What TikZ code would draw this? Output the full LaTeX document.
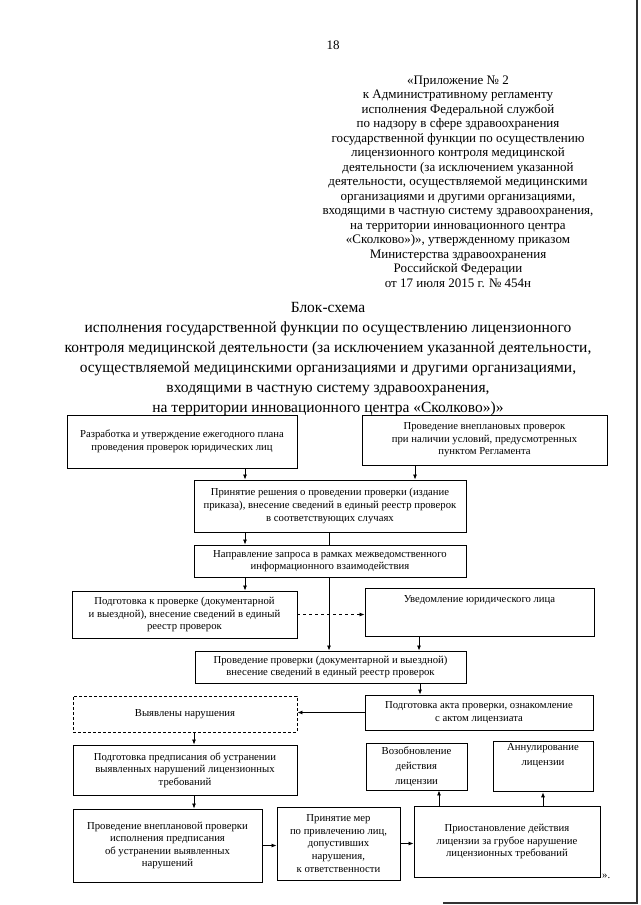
\documentclass[tikz,border=0pt]{standalone}
\usepackage{fontspec}
\setmainfont{Liberation Serif}
\usetikzlibrary{arrows.meta}
\begin{document}
\begin{tikzpicture}[x=1pt,y=-1pt,
  box/.style={draw, line width=0.9pt, align=center, inner sep=2pt,
    font=\fontsize{10.7}{12.6}\selectfont},
  bx/.style 2 args={box, minimum width=#1pt, minimum height=#2pt},
  arr/.style={-{Latex[length=5pt,width=4pt]}, line width=0.8pt},
  ln/.style={line width=0.8pt},
  hdrtext/.style={align=center, font=\fontsize{13}{14.5}\selectfont},
  ttltext/.style={align=center, font=\fontsize{15.5}{20}\selectfont}]
\useasboundingbox (0,0) rectangle (640,905);
% scan edge
\draw[line width=2pt, black!80] (637,0) -- (637,903) -- (443,903);

\node[hdrtext] (pg) at (333,45) {18};
\node[hdrtext] (hdr) at (458,181.5) {«Приложение № 2\\
к Административному регламенту\\
исполнения Федеральной службой\\
по надзору в сфере здравоохранения\\
государственной функции по осуществлению\\
лицензионного контроля медицинской\\
деятельности (за исключением указанной\\
деятельности, осуществляемой медицинскими\\
организациями и другими организациями,\\
входящими в частную систему здравоохранения,\\
на территории инновационного центра\\
«Сколково»)», утвержденному приказом\\
Министерства здравоохранения\\
Российской Федерации\\
от 17 июля 2015 г. № 454н};
\node[ttltext] (ttl) at (328,359) {Блок-схема\\
исполнения государственной функции по осуществлению лицензионного\\
контроля медицинской деятельности (за исключением указанной деятельности,\\
осуществляемой медицинскими организациями и другими организациями,\\
входящими в частную систему здравоохранения,\\
на территории инновационного центра «Сколково»)»};

\node[bx={230}{53}] (b1) at (182,441.5) {Разработка и утверждение ежегодного плана\\проведения проверок юридических лиц};
\node[bx={245}{50}] (b2) at (484.5,440) {Проведение внеплановых проверок\\при наличии условий, предусмотренных\\пунктом Регламента};
\node[bx={272}{52}] (b3) at (330,506) {Принятие решения о проведении проверки (издание\\приказа), внесение сведений в единый реестр проверок\\в соответствующих случаях};
\node[bx={272}{32}] (b4) at (330,561) {Направление запроса в рамках межведомственного\\информационного взаимодействия};
\node[bx={225}{47}] (b5) at (184.5,614.5) {Подготовка к проверке (документарной\\и выездной), внесение сведений в единый\\реестр проверок};
\node[bx={229}{48}] (bu) at (479.5,612) {Уведомление юридического лица\\[14pt]\mbox{}};
\node[bx={271}{32}] (b6) at (330.5,667) {Проведение проверки (документарной и выездной)\\внесение сведений в единый реестр проверок};
\node[bx={228}{35}] (b7) at (479,712.5) {Подготовка акта проверки, ознакомление\\с актом лицензиата};
\node[bx={224}{36}, dash pattern=on 3pt off 2pt] (b8) at (185,714) {Выявлены нарушения};
\node[bx={224}{50}] (b9) at (185,770) {Подготовка предписания об устранении\\выявленных нарушений лицензионных\\требований};
\node[bx={189}{73}] (b10) at (167.5,845.5) {Проведение внеплановой проверки\\исполнения предписания\\об устранении выявленных\\нарушений};
\node[bx={123}{73}] (b11) at (338.5,843.5) {Принятие мер\\по привлечению лиц,\\допустивших\\нарушения,\\к ответственности};
\node[bx={186}{71}] (b12) at (507,841.5) {Приостановление действия\\лицензии за грубое нарушение\\лицензионных требований};
\node[bx={101}{47}, font=\fontsize{10.7}{14.8}\selectfont] (b13) at (416.5,766.5) {Возобновление\\действия\\лицензии};
\node[bx={100}{47}, font=\fontsize{10.7}{14.8}\selectfont] (b14) at (543,766.5) {Аннулирование\\лицензии\\[10pt]\mbox{}};
\node[font=\fontsize{10.7}{12}\selectfont, anchor=south west, inner sep=1pt] (endq) at (601,880) {».};

\coordinate (x245) at (245,0);
\coordinate (x415) at (415,0);
\coordinate (x329) at (329,0);
\coordinate (x419) at (419,0);
\coordinate (x420) at (420,0);
\coordinate (x194) at (194,0);
\coordinate (x439) at (439,0);
\coordinate (x543) at (543,0);

\draw[arr] (x245 |- b1.south) -- (x245 |- b3.north);
\draw[arr] (x415 |- b2.south) -- (x415 |- b3.north);
\draw[arr] (x245 |- b3.south) -- (x245 |- b4.north);
\draw[ln] (x329 |- b3.south) -- (x329 |- b4.north);
\draw[arr] (x329 |- b4.south) -- (x329 |- b6.north);
\draw[arr] (x245 |- b4.south) -- (x245 |- b5.north);
\draw[arr, dashed] (b5.east) -- (b5.east -| bu.west);
\draw[arr] (x419 |- bu.south) -- (x419 |- b6.north);
\draw[arr] (x420 |- b6.south) -- (x420 |- b7.north);
\draw[arr] (b7.west) -- (b7.west -| b8.east);
\draw[arr] (x194 |- b8.south) -- (x194 |- b9.north);
\draw[arr] (x194 |- b9.south) -- (x194 |- b10.north);
\draw[arr] (b10.east) -- (b10.east -| b11.west);
\draw[arr] (b11.east) -- (b11.east -| b12.west);
\draw[arr] (x439 |- b12.north) -- (x439 |- b13.south);
\draw[arr] (x543 |- b12.north) -- (x543 |- b14.south);
\end{tikzpicture}
\end{document}
